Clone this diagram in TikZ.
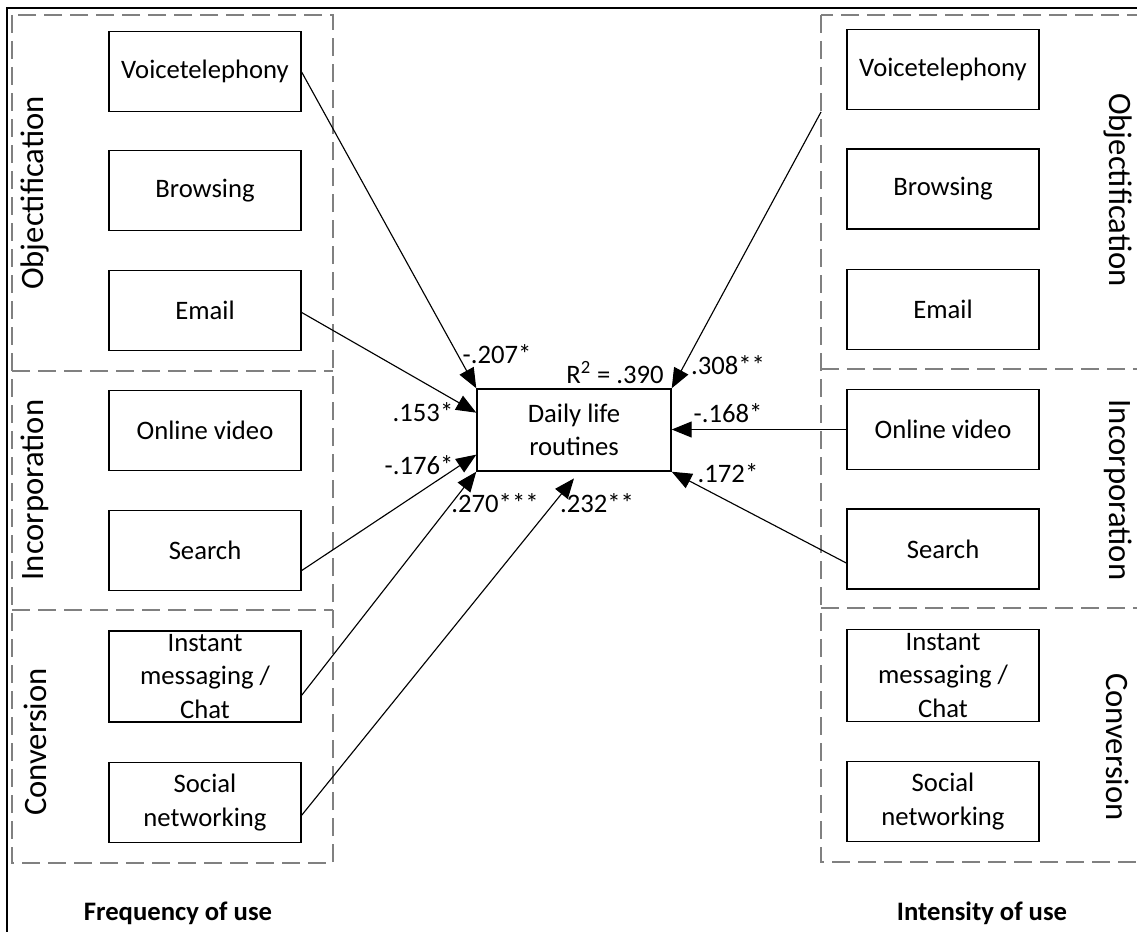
\documentclass[tikz,border=0pt]{standalone}
\usepackage{fontspec}
\setmainfont{Carlito}
\usetikzlibrary{arrows.meta}
\tikzset{
  item/.style={draw, line width=1.1pt, minimum width=144pt, minimum height=60pt,
    align=center, inner sep=1pt, font=\fontsize{20}{25}\selectfont},
  group/.style={draw=black!50, line width=0.8pt, dash pattern=on 13.5pt off 6pt},
  grouplabel/.style={font=\fontsize{24.5}{28}\selectfont},
  arr/.style={line width=0.85pt, -{Triangle[length=15pt,width=12pt]}},
  coef/.style={font=\fontsize{20}{24}\selectfont, inner sep=0pt},
  caption/.style={font=\fontsize{20}{24}\selectfont\bfseries}
}
\begin{document}
\begin{tikzpicture}[x=0.75pt, y=-0.75pt]
\useasboundingbox (0,0) rectangle (1137,931);
% outer frame
\draw[line width=1pt] (7,950) -- (7,8) -- (1150,8);

% dashed group frames
\draw[group] (12,15) rectangle (333,863);
\draw[group] (12,371) -- (333,371);
\draw[group] (12,610) -- (333,610);
\draw[group] (821,15) rectangle (1150,862);
\draw[group] (821,369) -- (1150,369);
\draw[group] (821,608) -- (1150,608);

% group names
\node[grouplabel, rotate=90] (lobj) at (35,193) {Objectification};
\node[grouplabel, rotate=90] (linc) at (35,490) {Incorporation};
\node[grouplabel, rotate=90] (lcon) at (35,742) {Conversion};
\node[grouplabel, rotate=-90] (robj) at (1118,190) {Objectification};
\node[grouplabel, rotate=-90] (rinc) at (1118,490) {Incorporation};
\node[grouplabel, rotate=-90] (rcon) at (1118,747) {Conversion};

% frequency of use
\node[item] (lvoice)  at (205,71.5)  {Voicetelephony};
\node[item] (lbrowse) at (205,190.5) {Browsing};
\node[item] (lemail)  at (205,310.5) {Email};
\node[item] (lvideo)  at (205,430.5) {Online video};
\node[item] (lsearch) at (205,550.5) {Search};
\node[item, minimum height=68pt] (lim) at (205,676.5) {Instant\\messaging /\\Chat};
\node[item] (lsocial) at (205,802.5) {Social\\networking};

% intensity of use
\node[item] (rvoice)  at (943,69.5)  {Voicetelephony};
\node[item] (rbrowse) at (943,189)   {Browsing};
\node[item] (remail)  at (943,309.5) {Email};
\node[item] (rvideo)  at (943,429.5) {Online video};
\node[item] (rsearch) at (943,549)   {Search};
\node[item, minimum height=69pt] (rim) at (943,675.5) {Instant\\messaging /\\Chat};
\node[item] (rsocial) at (943,801.5) {Social\\networking};

% outcome
\node[item, minimum width=145.5pt, minimum height=61.5pt] (dlr) at (574,430) {Daily life\\routines};

% paths
\coordinate (rvstart) at (821,112);
\draw[arr] ([yshift=-0.5pt]lvoice.east) -- (dlr.north west);
\draw[arr] ([yshift=-1.5pt]lemail.east) -- ([yshift=13pt]dlr.west);
\draw[arr] ([yshift=-15pt]lsearch.east) -- ([yshift=-18.5pt]dlr.west);
\draw[arr] ([yshift=-14pt]lim.east) -- (dlr.south west);
\draw[arr] ([yshift=-9.5pt]lsocial.east) -- ([yshift=-5pt]dlr.south);
\draw[arr] (rvstart) -- (dlr.north east);
\draw[arr] (rvideo.west) -- (dlr.east |- rvideo.west);
\draw[arr] ([yshift=-10.5pt]rsearch.west) -- (dlr.south east);

% coefficients
\node[coef] (c1) at (497,354) {-.207*};
\node[coef] (r2) at (615,373) {R\textsuperscript{2} = .390};
\node[coef] (c2) at (728,365) {.308**};
\node[coef] (c3) at (423,412) {.153*};
\node[coef] (c4) at (419,465) {-.176*};
\node[coef] (c5) at (495,503) {.270***};
\node[coef] (c6) at (597,503) {.232**};
\node[coef] (c7) at (728,413) {-.168*};
\node[coef] (c8) at (728,473) {.172*};

% captions
\node[caption] (freq) at (178,913) {Frequency of use};
\node[caption] (inten) at (982,913) {Intensity of use};
\end{tikzpicture}
\end{document}
